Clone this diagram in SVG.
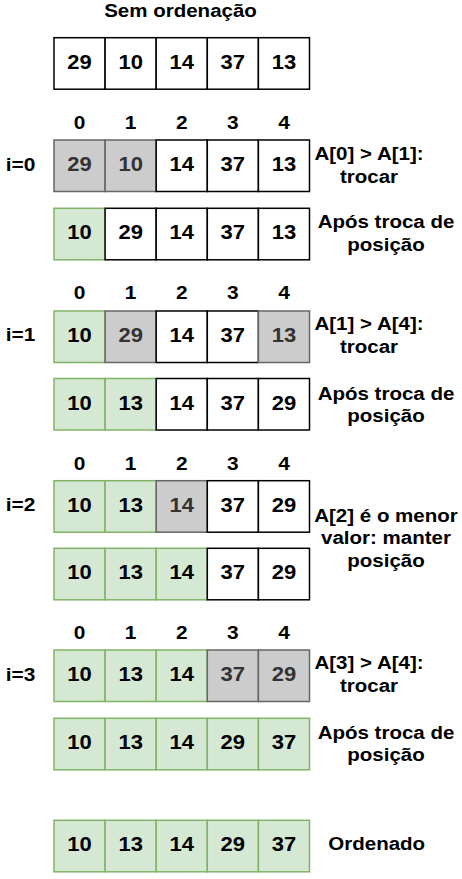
<svg xmlns="http://www.w3.org/2000/svg" width="462" height="879" viewBox="0 0 462 879">
<style>
rect{stroke-width:1.5}
.w{fill:#ffffff;stroke:#000000}
.g{fill:#cccccc;stroke:#666666}
.v{fill:#d5e8d4;stroke:#82b366}
text{font-family:"Liberation Sans",Arial,Helvetica,sans-serif;font-weight:bold;font-size:19px;text-anchor:middle;fill:#000000}
g.c text{font-size:20px}
g.ix text{font-size:19px}
.gt{fill:#333333}
</style>
<rect x="0" y="0" width="462" height="879" fill="#ffffff" stroke="none"/>
<g id="connectors"/>
<g id="title"><text transform="matrix(1.08 0 0 1 180.5 16.7)">Sem ordenação</text></g>

<g id="row0">
<g id="r0c0" class="c"><rect class="w" x="54" y="37.7" width="51.1" height="51.5"/><text transform="matrix(1.1 0 0 1 79.55 68.7)">29</text></g>
<g id="r0c1" class="c"><rect class="w" x="105.1" y="37.7" width="51.1" height="51.5"/><text transform="matrix(1.1 0 0 1 130.65 68.7)">10</text></g>
<g id="r0c2" class="c"><rect class="w" x="156.2" y="37.7" width="51.1" height="51.5"/><text transform="matrix(1.1 0 0 1 181.75 68.7)">14</text></g>
<g id="r0c3" class="c"><rect class="w" x="207.3" y="37.7" width="51.1" height="51.5"/><text transform="matrix(1.1 0 0 1 232.85 68.7)">37</text></g>
<g id="r0c4" class="c"><rect class="w" x="258.4" y="37.7" width="51.1" height="51.5"/><text transform="matrix(1.1 0 0 1 283.95 68.7)">13</text></g>
</g>

<g id="idx0" class="ix">
<text transform="matrix(1.1 0 0 1 79.55 129.3)">0</text>
<text transform="matrix(1.1 0 0 1 130.65 129.3)">1</text>
<text transform="matrix(1.1 0 0 1 181.75 129.3)">2</text>
<text transform="matrix(1.1 0 0 1 232.85 129.3)">3</text>
<text transform="matrix(1.1 0 0 1 283.95 129.3)">4</text>
</g>
<g id="lbl-i0"><text transform="matrix(1.1 0 0 1 20.5 170.5)">i=0</text></g>
<g id="row1">
<g id="r1c0" class="c"><rect class="g" x="54" y="140" width="51.1" height="51.5"/><text class="gt" transform="matrix(1.1 0 0 1 79.55 171)">29</text></g>
<g id="r1c1" class="c"><rect class="g" x="105.1" y="140" width="51.1" height="51.5"/><text class="gt" transform="matrix(1.1 0 0 1 130.65 171)">10</text></g>
<g id="r1c2" class="c"><rect class="w" x="156.2" y="140" width="51.1" height="51.5"/><text transform="matrix(1.1 0 0 1 181.75 171)">14</text></g>
<g id="r1c3" class="c"><rect class="w" x="207.3" y="140" width="51.1" height="51.5"/><text transform="matrix(1.1 0 0 1 232.85 171)">37</text></g>
<g id="r1c4" class="c"><rect class="w" x="258.4" y="140" width="51.1" height="51.5"/><text transform="matrix(1.1 0 0 1 283.95 171)">13</text></g>
</g>
<g id="note1"><text transform="matrix(1.08 0 0 1 369 159.7)">A[0] &gt; A[1]:</text><text transform="matrix(1.08 0 0 1 369 182.5)">trocar</text></g>

<g id="row2">
<g id="r2c0" class="c"><rect class="v" x="54" y="208.3" width="51.1" height="51.5"/><text transform="matrix(1.1 0 0 1 79.55 239.3)">10</text></g>
<g id="r2c1" class="c"><rect class="w" x="105.1" y="208.3" width="51.1" height="51.5"/><text transform="matrix(1.1 0 0 1 130.65 239.3)">29</text></g>
<g id="r2c2" class="c"><rect class="w" x="156.2" y="208.3" width="51.1" height="51.5"/><text transform="matrix(1.1 0 0 1 181.75 239.3)">14</text></g>
<g id="r2c3" class="c"><rect class="w" x="207.3" y="208.3" width="51.1" height="51.5"/><text transform="matrix(1.1 0 0 1 232.85 239.3)">37</text></g>
<g id="r2c4" class="c"><rect class="w" x="258.4" y="208.3" width="51.1" height="51.5"/><text transform="matrix(1.1 0 0 1 283.95 239.3)">13</text></g>
</g>
<g id="note2"><text transform="matrix(1.08 0 0 1 386 228.3)">Após troca de</text><text transform="matrix(1.08 0 0 1 386 251.3)">posição</text></g>

<g id="idx1" class="ix">
<text transform="matrix(1.1 0 0 1 79.55 299.3)">0</text>
<text transform="matrix(1.1 0 0 1 130.65 299.3)">1</text>
<text transform="matrix(1.1 0 0 1 181.75 299.3)">2</text>
<text transform="matrix(1.1 0 0 1 232.85 299.3)">3</text>
<text transform="matrix(1.1 0 0 1 283.95 299.3)">4</text>
</g>
<g id="lbl-i1"><text transform="matrix(1.1 0 0 1 20.5 340.5)">i=1</text></g>
<g id="row3">
<g id="r3c0" class="c"><rect class="v" x="54" y="311" width="51.1" height="51.5"/><text transform="matrix(1.1 0 0 1 79.55 342)">10</text></g>
<g id="r3c1" class="c"><rect class="g" x="105.1" y="311" width="51.1" height="51.5"/><text class="gt" transform="matrix(1.1 0 0 1 130.65 342)">29</text></g>
<g id="r3c2" class="c"><rect class="w" x="156.2" y="311" width="51.1" height="51.5"/><text transform="matrix(1.1 0 0 1 181.75 342)">14</text></g>
<g id="r3c3" class="c"><rect class="w" x="207.3" y="311" width="51.1" height="51.5"/><text transform="matrix(1.1 0 0 1 232.85 342)">37</text></g>
<g id="r3c4" class="c"><rect class="g" x="258.4" y="311" width="51.1" height="51.5"/><text class="gt" transform="matrix(1.1 0 0 1 283.95 342)">13</text></g>
</g>
<g id="note3"><text transform="matrix(1.08 0 0 1 369 330.3)">A[1] &gt; A[4]:</text><text transform="matrix(1.08 0 0 1 369 352.6)">trocar</text></g>

<g id="row4">
<g id="r4c0" class="c"><rect class="v" x="54" y="378.5" width="51.1" height="51.5"/><text transform="matrix(1.1 0 0 1 79.55 409.5)">10</text></g>
<g id="r4c1" class="c"><rect class="v" x="105.1" y="378.5" width="51.1" height="51.5"/><text transform="matrix(1.1 0 0 1 130.65 409.5)">13</text></g>
<g id="r4c2" class="c"><rect class="w" x="156.2" y="378.5" width="51.1" height="51.5"/><text transform="matrix(1.1 0 0 1 181.75 409.5)">14</text></g>
<g id="r4c3" class="c"><rect class="w" x="207.3" y="378.5" width="51.1" height="51.5"/><text transform="matrix(1.1 0 0 1 232.85 409.5)">37</text></g>
<g id="r4c4" class="c"><rect class="w" x="258.4" y="378.5" width="51.1" height="51.5"/><text transform="matrix(1.1 0 0 1 283.95 409.5)">29</text></g>
</g>
<g id="note4"><text transform="matrix(1.08 0 0 1 386 399.5)">Após troca de</text><text transform="matrix(1.08 0 0 1 386 422)">posição</text></g>

<g id="idx2" class="ix">
<text transform="matrix(1.1 0 0 1 79.55 469.5)">0</text>
<text transform="matrix(1.1 0 0 1 130.65 469.5)">1</text>
<text transform="matrix(1.1 0 0 1 181.75 469.5)">2</text>
<text transform="matrix(1.1 0 0 1 232.85 469.5)">3</text>
<text transform="matrix(1.1 0 0 1 283.95 469.5)">4</text>
</g>
<g id="lbl-i2"><text transform="matrix(1.1 0 0 1 20.5 510.5)">i=2</text></g>
<g id="row5">
<g id="r5c0" class="c"><rect class="v" x="54" y="480.7" width="51.1" height="51.5"/><text transform="matrix(1.1 0 0 1 79.55 511.7)">10</text></g>
<g id="r5c1" class="c"><rect class="v" x="105.1" y="480.7" width="51.1" height="51.5"/><text transform="matrix(1.1 0 0 1 130.65 511.7)">13</text></g>
<g id="r5c2" class="c"><rect class="g" x="156.2" y="480.7" width="51.1" height="51.5"/><text class="gt" transform="matrix(1.1 0 0 1 181.75 511.7)">14</text></g>
<g id="r5c3" class="c"><rect class="w" x="207.3" y="480.7" width="51.1" height="51.5"/><text transform="matrix(1.1 0 0 1 232.85 511.7)">37</text></g>
<g id="r5c4" class="c"><rect class="w" x="258.4" y="480.7" width="51.1" height="51.5"/><text transform="matrix(1.1 0 0 1 283.95 511.7)">29</text></g>
</g>
<g id="row6">
<g id="r6c0" class="c"><rect class="v" x="54" y="548.3" width="51.1" height="51.5"/><text transform="matrix(1.1 0 0 1 79.55 579.3)">10</text></g>
<g id="r6c1" class="c"><rect class="v" x="105.1" y="548.3" width="51.1" height="51.5"/><text transform="matrix(1.1 0 0 1 130.65 579.3)">13</text></g>
<g id="r6c2" class="c"><rect class="v" x="156.2" y="548.3" width="51.1" height="51.5"/><text transform="matrix(1.1 0 0 1 181.75 579.3)">14</text></g>
<g id="r6c3" class="c"><rect class="w" x="207.3" y="548.3" width="51.1" height="51.5"/><text transform="matrix(1.1 0 0 1 232.85 579.3)">37</text></g>
<g id="r6c4" class="c"><rect class="w" x="258.4" y="548.3" width="51.1" height="51.5"/><text transform="matrix(1.1 0 0 1 283.95 579.3)">29</text></g>
</g>
<g id="note5"><text transform="matrix(1.08 0 0 1 386 521.5)">A[2] é o menor</text><text transform="matrix(1.08 0 0 1 386 544.3)">valor: manter</text><text transform="matrix(1.08 0 0 1 386 567)">posição</text></g>

<g id="idx3" class="ix">
<text transform="matrix(1.1 0 0 1 79.55 638.9)">0</text>
<text transform="matrix(1.1 0 0 1 130.65 638.9)">1</text>
<text transform="matrix(1.1 0 0 1 181.75 638.9)">2</text>
<text transform="matrix(1.1 0 0 1 232.85 638.9)">3</text>
<text transform="matrix(1.1 0 0 1 283.95 638.9)">4</text>
</g>
<g id="lbl-i3"><text transform="matrix(1.1 0 0 1 20.5 680.5)">i=3</text></g>
<g id="row7">
<g id="r7c0" class="c"><rect class="v" x="54" y="650" width="51.1" height="51.5"/><text transform="matrix(1.1 0 0 1 79.55 681)">10</text></g>
<g id="r7c1" class="c"><rect class="v" x="105.1" y="650" width="51.1" height="51.5"/><text transform="matrix(1.1 0 0 1 130.65 681)">13</text></g>
<g id="r7c2" class="c"><rect class="v" x="156.2" y="650" width="51.1" height="51.5"/><text transform="matrix(1.1 0 0 1 181.75 681)">14</text></g>
<g id="r7c3" class="c"><rect class="g" x="207.3" y="650" width="51.1" height="51.5"/><text class="gt" transform="matrix(1.1 0 0 1 232.85 681)">37</text></g>
<g id="r7c4" class="c"><rect class="g" x="258.4" y="650" width="51.1" height="51.5"/><text class="gt" transform="matrix(1.1 0 0 1 283.95 681)">29</text></g>
</g>
<g id="note6"><text transform="matrix(1.08 0 0 1 369 669.3)">A[3] &gt; A[4]:</text><text transform="matrix(1.08 0 0 1 369 692.3)">trocar</text></g>

<g id="row8">
<g id="r8c0" class="c"><rect class="v" x="54" y="718.3" width="51.1" height="51.5"/><text transform="matrix(1.1 0 0 1 79.55 749.3)">10</text></g>
<g id="r8c1" class="c"><rect class="v" x="105.1" y="718.3" width="51.1" height="51.5"/><text transform="matrix(1.1 0 0 1 130.65 749.3)">13</text></g>
<g id="r8c2" class="c"><rect class="v" x="156.2" y="718.3" width="51.1" height="51.5"/><text transform="matrix(1.1 0 0 1 181.75 749.3)">14</text></g>
<g id="r8c3" class="c"><rect class="v" x="207.3" y="718.3" width="51.1" height="51.5"/><text transform="matrix(1.1 0 0 1 232.85 749.3)">29</text></g>
<g id="r8c4" class="c"><rect class="v" x="258.4" y="718.3" width="51.1" height="51.5"/><text transform="matrix(1.1 0 0 1 283.95 749.3)">37</text></g>
</g>
<g id="note7"><text transform="matrix(1.08 0 0 1 386 738.5)">Após troca de</text><text transform="matrix(1.08 0 0 1 386 761.3)">posição</text></g>

<g id="row9">
<g id="r9c0" class="c"><rect class="v" x="54" y="820.3" width="51.1" height="51.5"/><text transform="matrix(1.1 0 0 1 79.55 851.3)">10</text></g>
<g id="r9c1" class="c"><rect class="v" x="105.1" y="820.3" width="51.1" height="51.5"/><text transform="matrix(1.1 0 0 1 130.65 851.3)">13</text></g>
<g id="r9c2" class="c"><rect class="v" x="156.2" y="820.3" width="51.1" height="51.5"/><text transform="matrix(1.1 0 0 1 181.75 851.3)">14</text></g>
<g id="r9c3" class="c"><rect class="v" x="207.3" y="820.3" width="51.1" height="51.5"/><text transform="matrix(1.1 0 0 1 232.85 851.3)">29</text></g>
<g id="r9c4" class="c"><rect class="v" x="258.4" y="820.3" width="51.1" height="51.5"/><text transform="matrix(1.1 0 0 1 283.95 851.3)">37</text></g>
</g>
<g id="note8"><text transform="matrix(1.08 0 0 1 376.7 850.3)">Ordenado</text></g>
</svg>
